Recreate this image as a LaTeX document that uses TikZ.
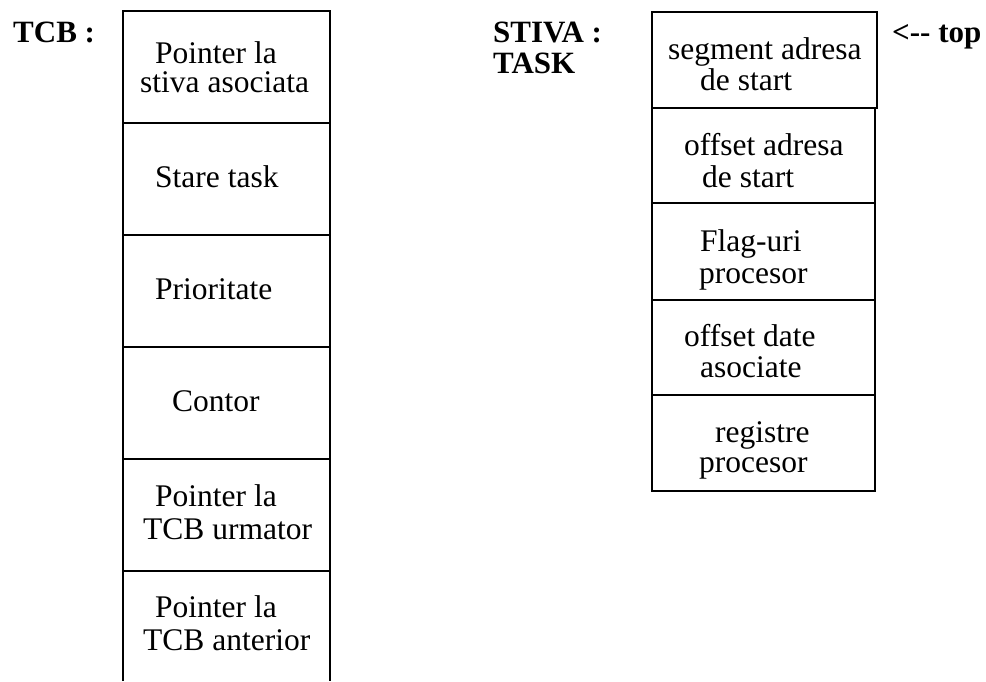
\documentclass[tikz,border=0pt]{standalone}
\usepackage{fontspec}
\setmainfont{Liberation Serif}
\begin{document}
\begin{tikzpicture}[x=1pt,y=-1pt,
  line/.style={line width=2pt},
  cell/.style={draw,line width=2pt,rectangle,inner sep=0pt,anchor=north west},
  txt/.style={anchor=base west,inner sep=0pt,font=\fontsize{31.5}{31.5}\selectfont},
  lbl/.style={anchor=base west,inner sep=0pt,font=\fontsize{31}{31}\selectfont\bfseries}]
\useasboundingbox (0,0) rectangle (986,681);
% TCB column
\coordinate (tl) at (123,11);
\coordinate (tr) at (330,11);
\coordinate (bl) at (123,681);
\coordinate (br) at (330,681);
\draw[line] (bl) -- (tl) -- (tr) -- (br);
\foreach \y/\n in {123/a,235/b,347/c,459/d,571/e}{
  \coordinate (dl\n) at (123,\y);
  \coordinate (dr\n) at (330,\y);
  \draw[line] (dl\n) -- (dr\n);
}
\node[lbl] (tcb) at (13,42) {TCB :};
\node[txt] (t1a) at (155,63) {Pointer la};
\node[txt] (t1b) at (140,92) {stiva asociata};
\node[txt] (t2) at (155,187) {Stare task};
\node[txt] (t3) at (155,299) {Prioritate};
\node[txt] (t4) at (172,411) {Contor};
\node[txt] (t5a) at (155,506) {Pointer la};
\node[txt] (t5b) at (143,539) {TCB urmator};
\node[txt] (t6a) at (155,617) {Pointer la};
\node[txt] (t6b) at (143,650) {TCB anterior};
% STIVA column
\node[cell,minimum width=225pt,minimum height=96pt] (s1) at (651,11) {};
\node[cell,minimum width=223pt,minimum height=95pt] (s2) at (651,107) {};
\node[cell,minimum width=223pt,minimum height=97pt] (s3) at (651,202) {};
\node[cell,minimum width=223pt,minimum height=95pt] (s4) at (651,299) {};
\node[cell,minimum width=223pt,minimum height=96pt] (s5) at (651,394) {};
\node[lbl] (stiva) at (493,42) {STIVA :};
\node[lbl] (task) at (493,73) {TASK};
\node[lbl] (top) at (892,42) {<{-}{-} top};
\node[txt] (u1a) at (668,59) {segment adresa};
\node[txt] (u1b) at (700,90) {de start};
\node[txt] (u2a) at (684,155) {offset adresa};
\node[txt] (u2b) at (702,187) {de start};
\node[txt] (u3a) at (700,251) {Flag-uri};
\node[txt] (u3b) at (699,283) {procesor};
\node[txt] (u4a) at (684,346) {offset date};
\node[txt] (u4b) at (700,377) {asociate};
\node[txt] (u5a) at (715,442) {registre};
\node[txt] (u5b) at (699,472) {procesor};
\end{tikzpicture}
\end{document}
